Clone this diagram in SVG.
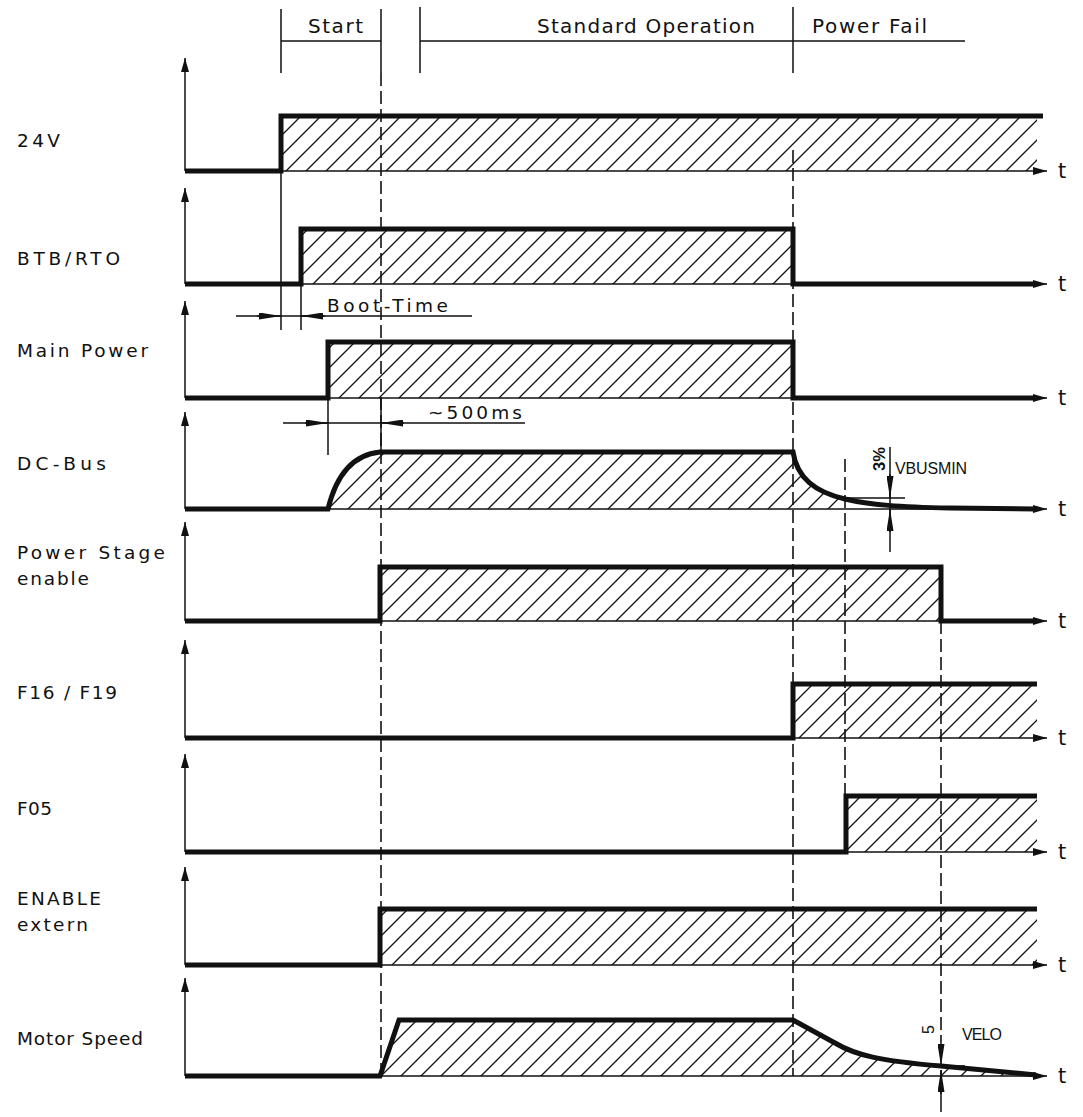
<svg xmlns="http://www.w3.org/2000/svg" width="1083" height="1117" viewBox="0 0 1083 1117">
<style>
.thin{fill:none;stroke:#111;stroke-width:1.5}
.thick{fill:none;stroke:#111;stroke-width:5;stroke-linejoin:miter}
.dash{fill:none;stroke:#111;stroke-width:1.6;stroke-dasharray:13 5}
.hat{fill:url(#h);stroke:none}
.lbl{font-family:"DejaVu Sans","Liberation Sans",sans-serif;font-size:18.5px;fill:#111}
.hdr{font-family:"DejaVu Sans","Liberation Sans",sans-serif;font-size:20px;fill:#111}
.t{font-family:"DejaVu Sans","Liberation Sans",sans-serif;font-size:21px;fill:#111}
.sm{font-family:"Liberation Sans",Arial,sans-serif;font-size:16px;fill:#111}
</style>
<defs>
<pattern id="h" patternUnits="userSpaceOnUse" x="17" y="0" width="20" height="20">
<path d="M-5,5 L5,-5 M0,20 L20,0 M15,25 L25,15" stroke="#111" stroke-width="1.3"/>
</pattern>
<marker id="ax" viewBox="0 0 14 8" refX="14" refY="4" markerWidth="14" markerHeight="8" orient="auto" markerUnits="userSpaceOnUse"><path d="M0,0 L14,4 L0,8 z" fill="#111"/></marker>
<marker id="dm" viewBox="0 0 22 7" refX="22" refY="3.5" markerWidth="22" markerHeight="7" orient="auto" markerUnits="userSpaceOnUse"><path d="M0,0 L22,3.5 L0,7 z" fill="#111"/></marker>
</defs>
<rect width="1083" height="1117" fill="#fff"/>

<g id="header">
<path class="thin" d="M281,9 V73 M381,9 V73 M420,7 V73 M793,7 V73 M281,41 H381 M420,41 H965"/>
<text class="hdr" x="308" y="33" textLength="55" lengthAdjust="spacing">Start</text>
<text class="hdr" x="537" y="33" textLength="218" lengthAdjust="spacing">Standard Operation</text>
<text class="hdr" x="812" y="33" textLength="115" lengthAdjust="spacing">Power Fail</text>
</g>

<g id="row-24v">
<rect class="hat" x="281" y="116" width="756" height="55"/>
<path class="thin" d="M185,171 V58" marker-end="url(#ax)"/>
<path class="thin" d="M185,171 H1047" marker-end="url(#ax)"/>
<path class="thick" d="M185,171 H281 V116 H1043"/>
<text class="lbl" x="17" y="147" textLength="43" lengthAdjust="spacing">24V</text>
<text class="t" x="1058" y="178">t</text>
</g>

<g id="row-btb">
<rect class="hat" x="301" y="229" width="492" height="55"/>
<path class="thin" d="M185,284 V188" marker-end="url(#ax)"/>
<path class="thin" d="M185,284 H1047" marker-end="url(#ax)"/>
<path class="thick" d="M185,284 H301 V229 H793 V284 H1036"/>
<text class="lbl" x="17" y="265" textLength="103" lengthAdjust="spacing">BTB/RTO</text>
<text class="t" x="1058" y="291">t</text>
</g>

<g id="row-main">
<rect class="hat" x="328" y="342" width="465" height="56"/>
<path class="thin" d="M185,398 V301" marker-end="url(#ax)"/>
<path class="thin" d="M185,398 H1047" marker-end="url(#ax)"/>
<path class="thick" d="M185,398 H328 V342 H793 V398 H1036"/>
<text class="lbl" x="17" y="357" textLength="131" lengthAdjust="spacing">Main Power</text>
<text class="t" x="1058" y="405">t</text>
</g>

<g id="row-dcbus">
<path class="hat" d="M328,509 C335,480 350,455 380,452 H793 C797,478 815,492 845,499 V509 Z"/>
<path class="thin" d="M185,509 V412" marker-end="url(#ax)"/>
<path class="thin" d="M185,509 H1047" marker-end="url(#ax)"/>
<path class="thick" d="M185,509 H328 C335,480 350,455 380,452 H793 C797,478 815,492 845,499 C870,505 900,507 950,508 L1036,509"/>
<text class="lbl" x="17" y="470" textLength="89" lengthAdjust="spacing">DC-Bus</text>
<text class="t" x="1058" y="516">t</text>
</g>

<g id="row-powerstage">
<rect class="hat" x="380" y="567" width="561" height="54"/>
<path class="thin" d="M185,621 V522" marker-end="url(#ax)"/>
<path class="thin" d="M185,621 H1047" marker-end="url(#ax)"/>
<path class="thick" d="M185,621 H380 V567 H941 V621 H1036"/>
<text class="lbl" x="17" y="559" textLength="148" lengthAdjust="spacing">Power Stage</text>
<text class="lbl" x="17" y="585" textLength="72" lengthAdjust="spacing">enable</text>
<text class="t" x="1058" y="628">t</text>
</g>

<g id="row-f16">
<rect class="hat" x="793" y="684" width="244" height="54"/>
<path class="thin" d="M185,738 V640" marker-end="url(#ax)"/>
<path class="thin" d="M185,738 H1047" marker-end="url(#ax)"/>
<path class="thick" d="M185,738 H793 V684 H1037"/>
<text class="lbl" x="17" y="699" textLength="100" lengthAdjust="spacing">F16 / F19</text>
<text class="t" x="1058" y="745">t</text>
</g>

<g id="row-f05">
<rect class="hat" x="846" y="796" width="191" height="56"/>
<path class="thin" d="M185,852 V754" marker-end="url(#ax)"/>
<path class="thin" d="M185,852 H1047" marker-end="url(#ax)"/>
<path class="thick" d="M185,852 H846 V796 H1037"/>
<text class="lbl" x="17" y="815" textLength="35" lengthAdjust="spacing">F05</text>
<text class="t" x="1058" y="859">t</text>
</g>

<g id="row-enable">
<rect class="hat" x="380" y="909" width="657" height="56"/>
<path class="thin" d="M185,965 V867" marker-end="url(#ax)"/>
<path class="thin" d="M185,965 H1047" marker-end="url(#ax)"/>
<path class="thick" d="M185,965 H380 V909 H1037"/>
<text class="lbl" x="17" y="905" textLength="84" lengthAdjust="spacing">ENABLE</text>
<text class="lbl" x="17" y="931" textLength="71" lengthAdjust="spacing">extern</text>
<text class="t" x="1058" y="972">t</text>
</g>

<g id="row-motor">
<path class="hat" d="M380,1076 L399,1020 H793 L835,1043 C855,1055 880,1061 941,1066 L1036,1075 V1076 Z"/>
<path class="thin" d="M185,1076 V978" marker-end="url(#ax)"/>
<path class="thin" d="M185,1076 H1047" marker-end="url(#ax)"/>
<path class="thick" d="M185,1076 H380 L399,1020 H793 L835,1043 C855,1055 880,1061 941,1066 L1036,1075"/>
<text class="lbl" x="17" y="1045" textLength="126" lengthAdjust="spacing">Motor Speed</text>
<text class="t" x="1058" y="1083">t</text>
</g>

<g id="connectors">
<path class="dash" d="M381,73 V1076"/>
<path class="dash" d="M793,150 V1076"/>
<path class="dash" d="M845,459 V796"/>
<path class="dash" d="M941,621 V1042"/>
<path class="thin" d="M281,171 V330 M301,284 V330 M236,316 H472"/>
<path class="thin" d="M257,316 H281" marker-end="url(#dm)"/>
<path class="thin" d="M325,316 H301" marker-end="url(#dm)"/>
<text class="lbl" x="327" y="312" textLength="121" lengthAdjust="spacing">Boot-Time</text>
<path class="thin" d="M328,398 V455 M381,398 V452 M283,423 H525"/>
<path class="thin" d="M305,423 H328" marker-end="url(#dm)"/>
<path class="thin" d="M404,423 H381" marker-end="url(#dm)"/>
<text class="lbl" x="428" y="419" textLength="94" lengthAdjust="spacing">~500ms</text>
<path class="thin" d="M890,447 V552 M847,498 H905"/>
<path class="thin" d="M890,474 V498" marker-end="url(#dm)"/>
<path class="thin" d="M890,532 V509" marker-end="url(#dm)"/>
<text class="sm" x="0" y="0" transform="translate(885,471) rotate(-90)" font-weight="bold" font-size="16" textLength="24" lengthAdjust="spacingAndGlyphs">3%</text>
<text class="sm" x="895" y="474" textLength="72" lengthAdjust="spacing">VBUSMIN</text>
<path class="thin" d="M941,1070 V1112 M940,1066 H965"/>
<path class="thin" d="M941,1042 V1066" marker-end="url(#dm)"/>
<path class="thin" d="M941,1094 V1070" marker-end="url(#dm)"/>
<text class="sm" x="0" y="0" transform="translate(934,1034) rotate(-90)" font-size="15">5</text>
<text class="sm" x="962" y="1040" textLength="40" lengthAdjust="spacing">VELO</text>
</g>
</svg>
